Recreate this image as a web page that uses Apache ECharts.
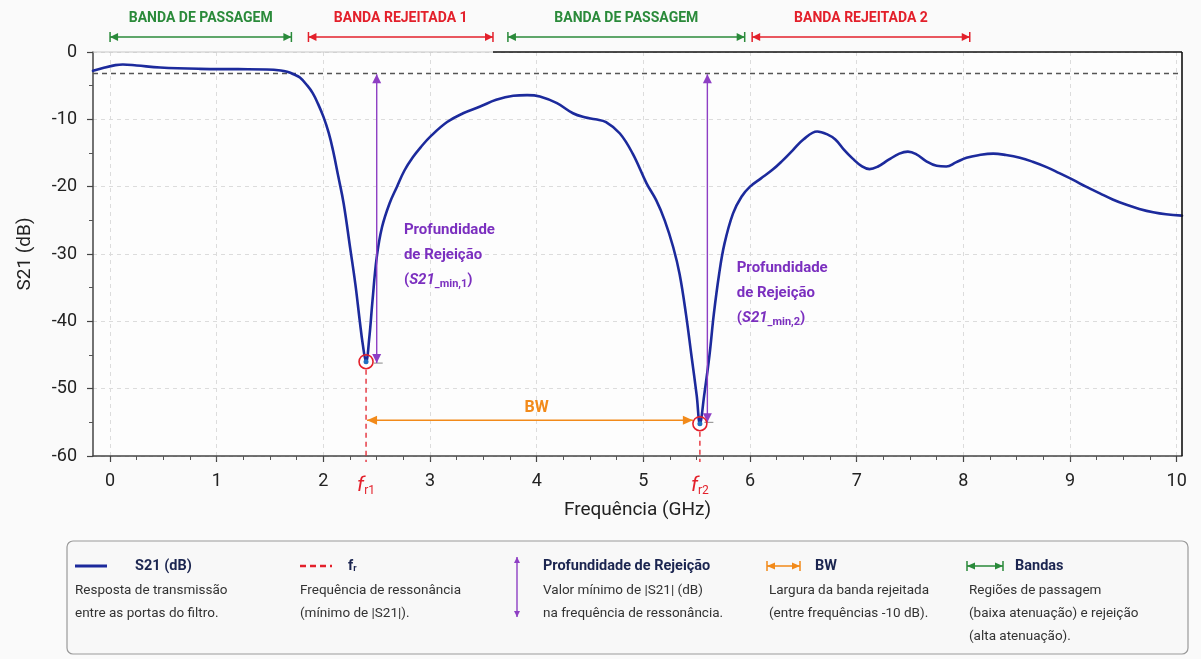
<!DOCTYPE html>
<html><head><meta charset="utf-8">
<script src="https://cdn.jsdelivr.net/npm/echarts@6/dist/echarts.min.js"></script>
<style>html,body{margin:0;padding:0;background:#fafafa}#c{width:1201px;height:659px}</style>
</head><body><div id="c"></div>
<script>
// ---------------- DATA ----------------
const freqGHz = [-0.16,-0.05,0.05,0.12,0.25,0.47,0.84,1.2,1.47,1.6,1.66,1.72,1.78,1.85,1.9,1.95,2.0,2.05,2.09,2.14,2.19,2.25,2.3,2.34,2.37,2.40,2.43,2.46,2.5,2.55,2.62,2.69,2.76,2.84,2.92,3.0,3.16,3.31,3.47,3.62,3.78,3.91,4.03,4.19,4.34,4.45,4.55,4.65,4.78,4.9,5.03,5.12,5.2,5.28,5.34,5.40,5.45,5.50,5.53,5.57,5.62,5.66,5.71,5.76,5.84,5.92,6.0,6.1,6.21,6.3,6.4,6.5,6.63,6.72,6.8,6.88,6.96,7.05,7.12,7.2,7.3,7.4,7.48,7.56,7.65,7.75,7.84,7.93,8.03,8.15,8.28,8.4,8.53,8.65,8.78,8.9,9.03,9.15,9.28,9.4,9.53,9.65,9.78,9.9,10.05];
const s21dB = [-2.8,-2.3,-1.95,-1.85,-2.0,-2.3,-2.5,-2.55,-2.6,-2.75,-2.95,-3.3,-3.8,-5.0,-6.1,-7.7,-9.6,-12,-14.6,-18.5,-22.5,-29,-34.5,-39.8,-43.5,-46.0,-42.5,-37,-30.5,-26,-22.5,-20.0,-17.6,-15.6,-14.0,-12.6,-10.4,-9.1,-8.1,-7.1,-6.5,-6.4,-6.6,-7.6,-9.1,-9.7,-10.0,-10.4,-12.1,-15.1,-19.5,-22,-25,-29,-33,-39,-45,-51,-55.2,-51,-45,-39,-33,-28.5,-24,-21.5,-20,-18.8,-17.5,-16.2,-14.6,-13,-11.8,-12.2,-13,-14.5,-15.8,-17.0,-17.4,-17.0,-16.0,-15.1,-14.8,-15.2,-16.2,-16.9,-17.0,-16.4,-15.7,-15.3,-15.1,-15.3,-15.7,-16.3,-17.1,-18.0,-19.0,-20.0,-21.0,-21.9,-22.7,-23.3,-23.8,-24.1,-24.3];
const xTickValues = [0,1,2,3,4,5,6,7,8,9,10];
const xTickLabels = ['0','1','2','3','4','5','6','7','8','9','10'];
const resonanceFreqs = [2.40, 5.53];
const resonanceMins = [-46.0, -55.2];
const resonanceLabels = ['r1','r2'];
const depthArrowFreqs = [2.50, 5.60];
const depthArrowBottoms = [-46.2, -55.0];
const depthTextAnchors = [[2.755, -24.6], [5.875, -30.3]];
const depthTextSubs = ['min,1','min,2'];
const cutoffLevel = -3.15;
const bwLevel = -54.7;
const bwLabelPos = [4.0, -52.8];
const bandStarts = [0, 1.86, 3.73, 6.02];
const bandEnds = [1.70, 3.59, 5.95, 8.06];
const bandLabels = ['BANDA DE PASSAGEM','BANDA REJEITADA 1','BANDA DE PASSAGEM','BANDA REJEITADA 2'];
const bandTypes = ['pass','reject','pass','reject'];
const legendTitles = ['S21 (dB)','f_r','Profundidade de Rejeição','BW','Bandas'];
const legendDescs = [
  ['Resposta de transmissão','entre as portas do filtro.'],
  ['Frequência de ressonância','(mínimo de |S21|).'],
  ['Valor mínimo de |S21| (dB)','na frequência de ressonância.'],
  ['Largura da banda rejeitada','(entre frequências -10 dB).'],
  ['Regiões de passagem','(baixa atenuação) e rejeição','(alta atenuação).']
];

// ---------------- STYLE ----------------
const C = {blue:'#1c2a9c', red:'#e3202b', green:'#2a8a3a', purple:'#7b2fbf', orange:'#f28a1a', navy:'#1b2550', text:'#222', grid:'#dcdcdc'};
const FONT = 'Roboto';
const XMIN = -0.16, XMAX = 10.05;

const chart = echarts.init(document.getElementById('c'), null, {renderer:'canvas'});
chart.setOption({
  backgroundColor:'#fafafa',
  animation:false,
  textStyle:{fontFamily:FONT},
  grid:{left:93, top:52, right:19, bottom:203, show:true, backgroundColor:'#fdfdfd', borderWidth:0},
  xAxis:{
    type:'value', min:XMIN, max:XMAX, splitNumber:5,
    axisLine:{show:true, onZero:false, lineStyle:{color:'#444', width:1.5}},
    axisTick:{show:true, customValues:xTickValues, length:6, lineStyle:{color:'#444', width:1.2}},
    minorTick:{show:true, splitNumber:8, length:4, lineStyle:{color:'#555', width:1}},
    axisLabel:{customValues:xTickValues, formatter:(v)=>{const i=xTickValues.indexOf(Math.round(v)); return i>=0?xTickLabels[i]:'';}, fontSize:18, color:C.text, margin:16, fontFamily:FONT},
    splitLine:{show:true, lineStyle:{type:[4,4], color:C.grid, width:1}},
    name:'Frequência (GHz)', nameLocation:'middle', nameGap:45, nameTextStyle:{fontSize:19, color:C.text, fontFamily:FONT}
  },
  yAxis:{
    type:'value', min:-60, max:0, interval:10,
    axisLine:{show:true, onZero:false, lineStyle:{color:'#444', width:1.5}},
    axisTick:{show:true, length:6, lineStyle:{color:'#444', width:1.2}},
    minorTick:{show:true, splitNumber:2, length:4, lineStyle:{color:'#555'}},
    axisLabel:{fontSize:18, color:C.text, margin:16, fontFamily:FONT},
    splitLine:{show:true, lineStyle:{type:[4,4], color:C.grid, width:1}},
    name:'S21 (dB)', nameLocation:'middle', nameGap:58, nameRotate:90, nameTextStyle:{fontSize:19, color:C.text, fontFamily:FONT}
  },
  series:[{
    type:'line', data:freqGHz.map((f,i)=>[f,s21dB[i]]), showSymbol:false, smooth:0.4,
    lineStyle:{color:C.blue, width:2.6, join:'round', cap:'round'}, z:5,
    markLine:{silent:true, symbol:['none','none'], label:{show:false},
      lineStyle:{color:'#555', type:[5,4], width:1.3},
      data:[[{coord:[XMIN,cutoffLevel]},{coord:[XMAX,cutoffLevel]}]]}
  }]
});

// ---------------- ANNOTATIONS ----------------
function P(x,y){return chart.convertToPixel({gridIndex:0},[x,y]);}
function head(tip, dx, dy, L, W, color){
  const bx = tip[0]-dx*L, by = tip[1]-dy*L;
  const nx = -dy, ny = dx;
  return {type:'polygon', z:60, shape:{points:[[tip[0],tip[1]],[bx+nx*W,by+ny*W],[bx-nx*W,by-ny*W]]}, style:{fill:color}};
}
function dblArrow(a, b, color, width, L, W, bars){
  const len = Math.hypot(b[0]-a[0], b[1]-a[1]);
  const dx=(b[0]-a[0])/len, dy=(b[1]-a[1])/len;
  const els = [
    {type:'line', z:59, shape:{x1:a[0],y1:a[1],x2:b[0],y2:b[1]}, style:{stroke:color, lineWidth:width}},
    head(b, dx, dy, L, W, color),
    head(a, -dx, -dy, L, W, color)
  ];
  if(bars){
    const nx=-dy, ny=dx;
    [a,b].forEach(p=>els.push({type:'line', z:59, shape:{x1:p[0]+nx*5,y1:p[1]+ny*5,x2:p[0]-nx*5,y2:p[1]-ny*5}, style:{stroke:color, lineWidth:1.5}}));
  }
  return els;
}
const g = [];
const tl = P(XMIN,0), tr = P(XMAX,0), br = P(XMAX,-60);
// frame
const split = P(bandEnds[1],0);
g.push({type:'line', z:40, shape:{x1:tl[0],y1:tl[1],x2:split[0],y2:split[1]}, style:{stroke:'#c8c8c8', lineWidth:1.2}});
g.push({type:'line', z:40, shape:{x1:split[0],y1:split[1],x2:tr[0],y2:tr[1]}, style:{stroke:'#111', lineWidth:1.6}});
g.push({type:'line', z:40, shape:{x1:tr[0],y1:tr[1],x2:br[0],y2:br[1]}, style:{stroke:'#111', lineWidth:1.6}});
// bands
bandStarts.forEach((s,i)=>{
  const col = bandTypes[i]==='pass'?C.green:C.red;
  const a = P(s,0), b = P(bandEnds[i],0);
  const y = a[1]-15;
  g.push(...dblArrow([a[0],y],[b[0],y],col,1.3,8,4,true));
  g.push({type:'text', z:60, x:(a[0]+b[0])/2, y:y-19, style:{text:bandLabels[i], fill:col, font:'bold 14px '+FONT, align:'center', verticalAlign:'middle'}});
});
// depth arrows
depthArrowFreqs.forEach((f,i)=>{
  const a = P(f,cutoffLevel), b = P(f,depthArrowBottoms[i]);
  g.push(...dblArrow([a[0],a[1]+1],[b[0],b[1]],'#8e3fc4',1.4,9,4.5,false));
  g.push({type:'line', z:58, shape:{x1:b[0]-3,y1:b[1],x2:b[0]+6,y2:b[1]}, style:{stroke:'#888', lineWidth:1}});
  const t = P(depthTextAnchors[i][0], depthTextAnchors[i][1]);
  g.push({type:'text', z:60, x:t[0], y:t[1], style:{
    text:'{n|Profundidade}\n{n|de Rejeição}\n{n|(}{i|S21}{s|'+'_'+depthTextSubs[i]+'}{n|)}',
    verticalAlign:'top', align:'left',
    rich:{n:{font:'bold 15px '+FONT, fill:C.purple, lineHeight:25}, i:{font:'italic bold 15px '+FONT, fill:C.purple, lineHeight:25}, s:{font:'bold 11px '+FONT, fill:C.purple, padding:[8,0,0,0], lineHeight:25}}
  }});
});
// BW arrow
{
  const a = P(resonanceFreqs[0], bwLevel), b = P(resonanceFreqs[1], bwLevel);
  g.push(...dblArrow([a[0]+1,a[1]],[b[0]-7,b[1]],C.orange,1.4,10,4.5,false));
  const t = P(bwLabelPos[0], bwLabelPos[1]);
  g.push({type:'text', z:60, x:t[0], y:t[1], style:{text:'BW', fill:C.orange, font:'bold 16px '+FONT, align:'center', verticalAlign:'middle'}});
}
// resonance markers
resonanceFreqs.forEach((f,i)=>{
  const m = P(f, resonanceMins[i]), bot = P(f,-60);
  g.push({type:'line', z:55, shape:{x1:m[0],y1:m[1]+8,x2:bot[0],y2:bot[1]+6}, style:{stroke:C.red, lineWidth:1.3, lineDash:[5,4]}});
  g.push({type:'circle', z:61, shape:{cx:m[0],cy:m[1],r:7}, style:{stroke:C.red, lineWidth:1.6, fill:'rgba(0,0,0,0)'}});
  g.push({type:'circle', z:61, shape:{cx:m[0],cy:m[1],r:2.5}, style:{fill:'#1f6fc0'}});
  g.push({type:'text', z:60, x:bot[0], y:bot[1]+30, style:{
    text:'{f|f}{s|'+resonanceLabels[i]+'}', align:'center', verticalAlign:'middle',
    rich:{f:{font:'italic 21px '+FONT, fill:C.red}, s:{font:'12px '+FONT, fill:C.red, padding:[10,0,0,0]}}
  }});
});

// ---------------- LEGEND BOX ----------------
g.push({type:'rect', z:30, shape:{x:67,y:541,width:1121,height:113,r:6}, style:{fill:'#f8f8f8', stroke:'#9a9a9a', lineWidth:1.2}});
const colX = [75, 300, 543, 769, 969];
const titleX = [135, 348, 543, 815, 1015];
// icons
g.push({type:'line', z:31, shape:{x1:75,y1:566,x2:107,y2:566}, style:{stroke:C.blue, lineWidth:3}});
g.push({type:'line', z:31, shape:{x1:300,y1:566,x2:332,y2:566}, style:{stroke:C.red, lineWidth:2.5, lineDash:[6,4]}});
g.push(...dblArrow([517,557],[517,617],'#8e3fc4',1.4,6,3,false));
g.push(...dblArrow([767,566],[800,566],C.orange,1.4,8,3.5,true));
g.push(...dblArrow([967,566],[1003,566],C.green,1.4,8,3.5,true));
legendTitles.forEach((t,i)=>{
  const txt = t==='f_r' ? '{b|f}{s|r}' : '{b|'+t+'}';
  g.push({type:'text', z:32, x:titleX[i], y:566, style:{text:txt, verticalAlign:'middle', align:'left',
    rich:{b:{font:'bold 14.5px '+FONT, fill:C.navy}, s:{font:'bold 9px '+FONT, fill:C.navy, padding:[6,0,0,0]}}}});
  legendDescs[i].forEach((d,j)=>{
    g.push({type:'text', z:32, x:colX[i], y:591+j*23, style:{text:d, fill:'#333', font:'13.5px '+FONT, verticalAlign:'middle', align:'left'}});
  });
});

chart.setOption({graphic:{elements:g}});
</script></body></html>
